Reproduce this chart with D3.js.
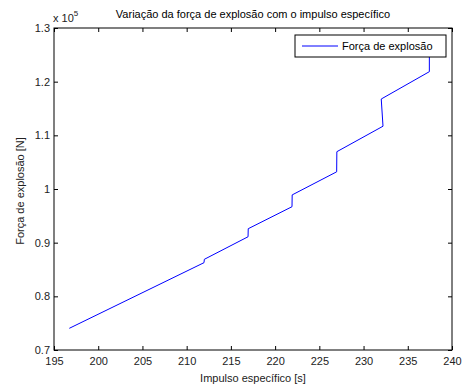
<!DOCTYPE html>
<html>
<head>
<meta charset="utf-8">
<script src="https://cdn.jsdelivr.net/npm/d3@7"></script>
<style>
  body { margin: 0; background: #fff; }
  text { font-family: "Liberation Sans", Arial, sans-serif; }
</style>
</head>
<body>
<div id="chart"></div>
<script>
// dados
let impulso = [196.73, 211.96, 212.0, 216.94, 216.96, 221.91, 221.93, 226.96, 226.98, 232.2, 232.0, 237.44, 237.44];
let forca = [74040, 86270, 86900, 91100, 92600, 96700, 98900, 103200, 106950, 111700, 116770, 121860, 125000];
let xTicks = [195, 200, 205, 210, 215, 220, 225, 230, 235, 240];
let yTicks = [70000, 80000, 90000, 100000, 110000, 120000, 130000];

let titulo = "Variação da força de explosão com o impulso específico";
let xLabel = "Impulso específico [s]";
let yLabel = "Força de explosão [N]";
let legenda = "Força de explosão";

let W = 464, H = 389;
let margin = { top: 28, right: 12, bottom: 39, left: 54 };
let width = W - margin.left - margin.right,
    height = H - margin.top - margin.bottom;

let svg = d3.select("#chart").append("svg")
    .attr("width", W)
    .attr("height", H);

let g = svg.append("g")
    .attr("transform", "translate(" + margin.left + "," + margin.top + ")");

let x = d3.scaleLinear().domain([195, 240]).range([0, width]);
let y = d3.scaleLinear().domain([70000, 130000]).range([height, 0]);

let fmtY = d => String(d / 1e5);

// eixos (ticks para dentro, como no MATLAB)
let xAxis = g.append("g")
    .attr("transform", "translate(0," + height + ")")
    .call(d3.axisBottom(x).tickValues(xTicks).tickSize(-4).tickPadding(7).tickFormat(d3.format("d")));
let yAxis = g.append("g")
    .call(d3.axisLeft(y).tickValues(yTicks).tickSize(-4).tickPadding(4).tickFormat(fmtY));
let xTop = g.append("g")
    .call(d3.axisTop(x).tickValues(xTicks).tickSize(-4).tickFormat(""));
let yRight = g.append("g")
    .attr("transform", "translate(" + width + ",0)")
    .call(d3.axisRight(y).tickValues(yTicks).tickSize(-4).tickFormat(""));

[xAxis, yAxis, xTop, yRight].forEach(a => {
    a.select(".domain").remove();
    a.selectAll("line").attr("stroke", "#000");
    a.selectAll("text")
        .attr("fill", "#222")
        .style("font-size", "11px")
        .style("font-family", "'Liberation Sans', Arial, sans-serif");
});

// linha
let line = d3.line()
    .x((d, i) => x(impulso[i]))
    .y((d, i) => y(forca[i]));

g.append("path")
    .datum(forca)
    .attr("fill", "none")
    .attr("stroke", "#0000ff")
    .attr("stroke-width", 1)
    .attr("d", line);

// moldura
g.append("rect")
    .attr("x", 0).attr("y", 0)
    .attr("width", width).attr("height", height)
    .attr("fill", "none")
    .attr("stroke", "#000")
    .attr("stroke-width", 1);

// legenda
let leg = g.append("g").attr("transform", "translate(" + (width - 157) + ",7)");
leg.append("rect")
    .attr("x", 0).attr("y", 0)
    .attr("width", 151).attr("height", 22)
    .attr("fill", "#fff")
    .attr("stroke", "#000");
leg.append("line")
    .attr("x1", 7).attr("x2", 43)
    .attr("y1", 11).attr("y2", 11)
    .attr("stroke", "#0000ff");
leg.append("text")
    .attr("x", 47).attr("y", 15)
    .attr("fill", "#000")
    .style("font-size", "11px")
    .text(legenda);

// título e rótulos
svg.append("text")
    .attr("x", margin.left + width / 2)
    .attr("y", 18)
    .attr("text-anchor", "middle")
    .style("font-size", "11px")
    .text(titulo);

svg.append("text")
    .attr("x", margin.left + width / 2)
    .attr("y", 382)
    .attr("text-anchor", "middle")
    .attr("fill", "#222")
    .style("font-size", "11px")
    .text(xLabel);

svg.append("text")
    .attr("transform", "translate(24," + (margin.top + height / 2 + 2) + ") rotate(-90)")
    .attr("text-anchor", "middle")
    .attr("fill", "#222")
    .style("font-size", "11px")
    .text(yLabel);

// multiplicador x 10^5
let mult = svg.append("text")
    .attr("x", 53)
    .attr("y", 22)
    .attr("fill", "#222")
    .style("font-size", "11px");
mult.append("tspan").text("x 10");
mult.append("tspan").attr("dy", -6).style("font-size", "8px").text("5");
</script>
</body>
</html>
